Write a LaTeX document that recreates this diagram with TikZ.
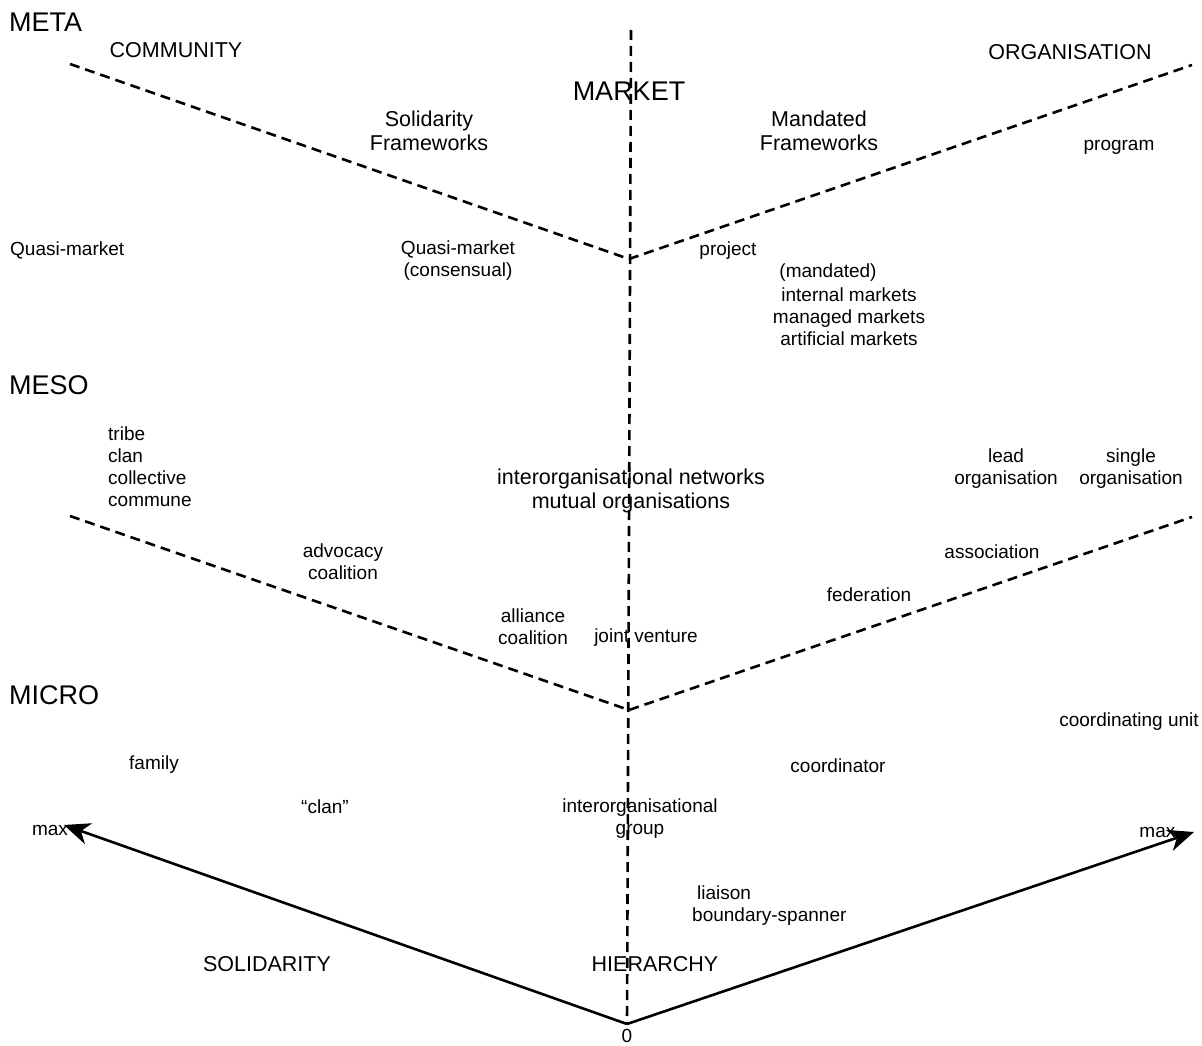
\documentclass[tikz,border=0pt]{standalone}
\usepackage{fontspec}
\setmainfont{Liberation Sans}
\usetikzlibrary{arrows.meta}
\begin{document}
\begin{tikzpicture}[x=1pt,y=-1pt,
  lbl/.style={inner sep=0pt,font=\fontsize{19}{22}\selectfont,align=center},
  mid/.style={inner sep=0pt,font=\fontsize{21.5}{24}\selectfont,align=center},
  big/.style={inner sep=0pt,font=\fontsize{27}{30}\selectfont},
  divider/.style={dashed,line width=2.6pt,dash pattern=on 10pt off 6pt},
  axis/.style={line width=2.6pt,-{Stealth[length=26pt,width=22pt,inset=8pt]}}]
\useasboundingbox (0,0) rectangle (1202,1046);

% frame points of the diagram
\coordinate (vtop) at (631,30);
\coordinate (vbot) at (627,1024);
\coordinate (uL) at (70,64);
\coordinate (uC) at (629,259);
\coordinate (uR) at (1192,65);
\coordinate (mL) at (70,516);
\coordinate (mC) at (629,710);
\coordinate (mR) at (1192,517);
\coordinate (origin) at (627,1024);
\coordinate (solmax) at (64,825);
\coordinate (hiermax) at (1194,832);

% dashed dividers
\draw[divider] (vtop) -- (vbot);
\draw[divider] (uL) -- (uC) -- (uR);
\draw[divider] (mL) -- (mC) -- (mR);

% axes
\draw[axis] (origin) -- (solmax);
\draw[axis] (origin) -- (hiermax);

% level titles
\node[big,anchor=west] (meta) at (9,22) {META};
\node[big,anchor=west] (meso) at (9,385) {MESO};
\node[big,anchor=west] (micro) at (9,695) {MICRO};

% headings
\node[mid] (community) at (176,50) {COMMUNITY};
\node[mid] (organisation) at (1070,52) {ORGANISATION};
\node[big] (market) at (629,91) {MARKET};
\node[mid] (solfw) at (429,131) {Solidarity\\Frameworks};
\node[mid] (manfw) at (819,131) {Mandated\\Frameworks};

% meta level entries
\node[lbl] (program) at (1119,147) {program};
\node[lbl,anchor=west] (quasi) at (10,250) {Quasi-market};
\node[lbl] (quasicons) at (458,261) {Quasi-market\\(consensual)};
\node[lbl] (project) at (728,251) {project};
\node[lbl] (mandated) at (828,273) {(mandated)};
\node[lbl] (markets) at (849,317) {internal markets\\managed markets\\artificial markets};

% meso level entries
\node[lbl,anchor=west,align=left] (tribe) at (108,467) {tribe\\clan\\collective\\commune};
\node[mid] (networks) at (631,491) {interorganisational networks\\mutual organisations};
\node[lbl] (lead) at (1006,469) {lead\\organisation};
\node[lbl] (single) at (1131,469) {single\\organisation};
\node[lbl] (advocacy) at (343,562) {advocacy\\coalition};
\node[lbl] (association) at (992,552) {association};
\node[lbl] (federation) at (869,595) {federation};
\node[lbl] (alliance) at (533,627) {alliance\\coalition};
\node[lbl] (joint) at (646,638) {joint venture};

% micro level entries
\node[lbl] (unit) at (1129,722) {coordinating unit};
\node[lbl] (family) at (154,765) {family};
\node[lbl] (coordinator) at (838,766) {coordinator};
\node[lbl] (clan) at (325,807) {``clan''};
\node[lbl] (group) at (640,819) {interorganisational\\group};
\node[lbl,anchor=west,align=left] (liaison) at (692,906) {\hspace*{5pt}liaison\\boundary-spanner};

% axis labels
\node[lbl] (maxl) at (50,830) {max};
\node[lbl] (maxr) at (1160,832) {max.};
\node[mid] (solidarity) at (267,964) {SOLIDARITY};
\node[mid] (hierarchy) at (655,964) {HIERARCHY};
\node[lbl] (zero) at (627,1036) {0};
\end{tikzpicture}
\end{document}
